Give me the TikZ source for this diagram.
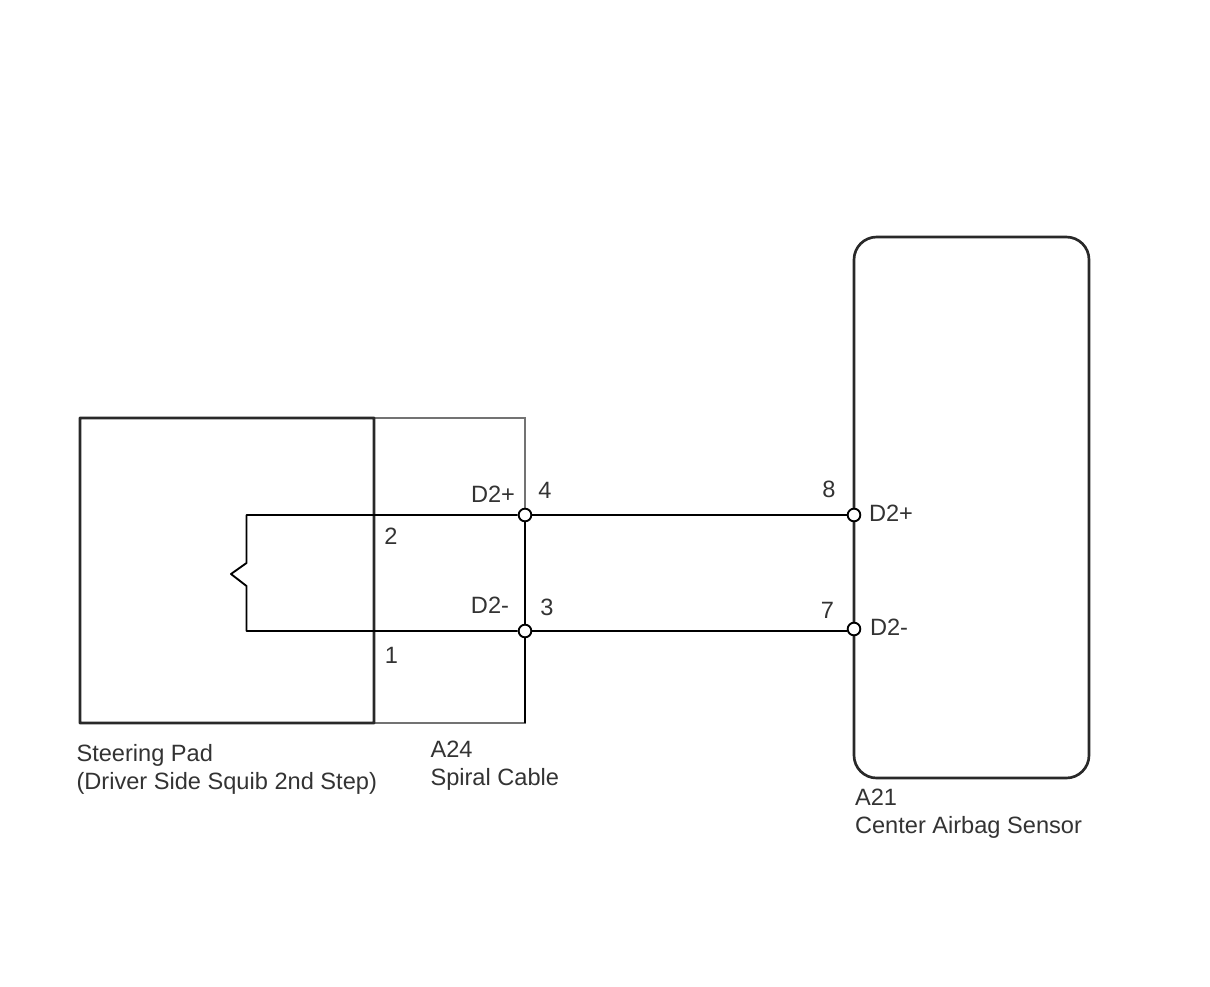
\documentclass[tikz,border=0pt]{standalone}
\usepackage{fontspec}
\setmainfont{Liberation Sans}
\usetikzlibrary{positioning}

\definecolor{inkline}{gray}{0.16}
\definecolor{inktext}{gray}{0.2}

\begin{document}
\begin{tikzpicture}[x=0.75pt, y=-0.75pt, thick,
            box node/.style={rectangle,draw=inkline,line width=2pt,inner sep=0pt,outer sep=0pt},
            pin node/.style={circle,draw=black,fill=white,line width=1.4pt,inner sep=0pt,minimum size=9.5pt},
            wire/.style={draw=black,line width=1.4pt,line join=round},
            main label/.style={font=\fontsize{17.7}{21}\selectfont,text=inktext,inner sep=0pt,align=left}]
        \useasboundingbox (0,0) rectangle (1210,986);

        \node[box node,minimum width=151*0.75pt,minimum height=305*0.75pt,line width=1.5pt,draw=black!55] (cable) at (449.5,570.5) {};
        \node[box node,rounded corners=0.2pt,minimum width=294*0.75pt,minimum height=305*0.75pt] (pad) at (227,570.5) {};
        \node[box node,rounded corners=17pt,minimum width=235*0.75pt,minimum height=541*0.75pt] (sensor) at (971.5,507.5) {};

        \coordinate (wiretop) at (246.5,515);
        \coordinate (zigtop) at (246.5,563);
        \coordinate (zigtip) at (231,574);
        \coordinate (zigbot) at (246.5,586);
        \coordinate (wirebot) at (246.5,631);

        \node[pin node] (pin4) at (525,515) {};
        \node[pin node] (pin3) at (525,631) {};
        \node[pin node] (pin8) at (854,515) {};
        \node[pin node] (pin7) at (854,629) {};

        \draw[wire] (pin4) -- (wiretop) -- (zigtop) -- (zigtip) -- (zigbot) -- (wirebot) -- (pin3);
        \draw[wire] (pin4) -- (pin8);
        \draw[wire] (pin3.east) -- (pin3.east -| pin7.west);
        \draw[wire] (pin4) -- (pin3);
        \draw[wire] (pin3) -- (cable.south east);

        \node[main label] (num2) at (391,536.5) {2};
        \node[main label] (num1) at (391.5,655.5) {1};
        \node[main label] (num4) at (545,490.5) {4};
        \node[main label] (num3) at (547,607.5) {3};
        \node[main label] (num8) at (829,489.5) {8};
        \node[main label] (num7) at (827.5,610.5) {7};

        \node[main label] (cableplus) at (493,494.5) {D2+};
        \node[main label] (cableminus) at (490,605.5) {D2-};
        \node[main label,anchor=west] (sensorplus) at (868.5,513.5) {D2+};
        \node[main label,anchor=west] (sensorminus) at (869.5,627.5) {D2-};

        \node[main label,anchor=north west] (padname) at (76,744) {Steering Pad\\(Driver Side Squib 2nd Step)};
        \node[main label,anchor=north west] (cablename) at (430,740) {A24\\Spiral Cable};
        \node[main label,anchor=north west] (sensorname) at (854.5,788) {A21\\Center Airbag Sensor};
        \end{tikzpicture}
\end{document}
